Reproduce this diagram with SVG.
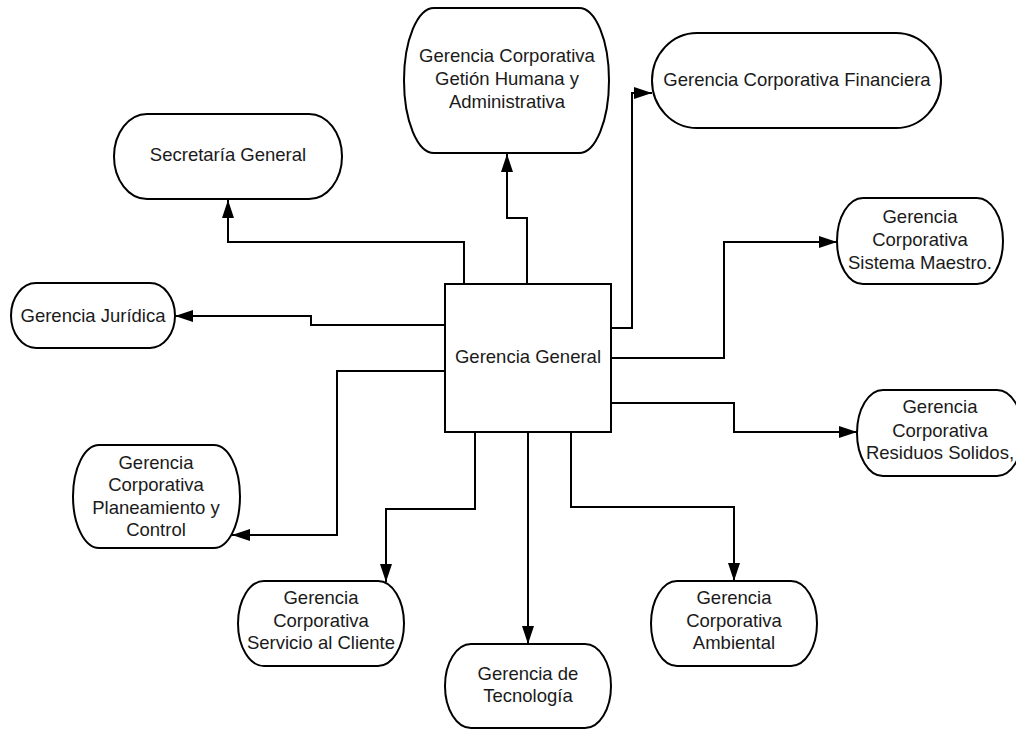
<svg xmlns="http://www.w3.org/2000/svg" width="1016" height="729" viewBox="0 0 1016 729">
<style>
.n{fill:#fff;stroke:#000;stroke-width:2}
.t{font-family:"Liberation Sans",Arial,sans-serif;font-size:18.5px;fill:#1a1a1a;text-anchor:middle}
.c{fill:none;stroke:#000;stroke-width:2;marker-end:url(#ah)}
</style>
<defs>
<marker id="ah" markerUnits="userSpaceOnUse" markerWidth="18" markerHeight="12" refX="18" refY="6" orient="auto">
<path d="M0,0 L18,6 L0,12 z" fill="#000"/>
</marker>
</defs>
<rect width="1016" height="729" fill="#fff"/>
<g id="connectors">
<path class="c" d="M464,284 V242 H228 V200"/>
<path class="c" d="M527,284 V218 H507 V154"/>
<path class="c" d="M611,328 H632 V93 H652"/>
<path class="c" d="M611,358 H724 V242 H837"/>
<path class="c" d="M611,403 H734 V432 H857"/>
<path class="c" d="M571,432 V507 H734 V581"/>
<path class="c" d="M528,432 V644"/>
<path class="c" d="M475,432 V509 H386 V582"/>
<path class="c" d="M445,371 H337 V535 H232"/>
<path class="c" d="M445,325 H311 V316 H175"/>
</g>
<g id="general">
<rect class="n" x="445" y="284" width="166" height="148"/>
<text class="t" x="528" y="363">Gerencia General</text>
</g>
<g id="secretaria">
<rect class="n" x="114" y="114" width="228" height="85" rx="33" ry="42.5"/>
<text class="t" x="228" y="161">Secretaría General</text>
</g>
<g id="gestion">
<rect class="n" x="404" y="8" width="205" height="145" rx="30" ry="72.5"/>
<text class="t" x="507" y="62">Gerencia Corporativa</text>
<text class="t" x="507" y="85">Getión Humana y</text>
<text class="t" x="507" y="108">Administrativa</text>
</g>
<g id="financiera">
<rect class="n" x="652" y="33" width="289" height="95" rx="45" ry="47.5"/>
<text class="t" x="797" y="86">Gerencia Corporativa Financiera</text>
</g>
<g id="sistema">
<rect class="n" x="837" y="198" width="166" height="86" rx="26" ry="43"/>
<text class="t" x="920" y="223">Gerencia</text>
<text class="t" x="920" y="246">Corporativa</text>
<text class="t" x="920" y="269">Sistema Maestro.</text>
</g>
<g id="juridica">
<rect class="n" x="11" y="283" width="164" height="65" rx="25" ry="32.5"/>
<text class="t" x="93" y="322">Gerencia Jurídica</text>
</g>
<g id="residuos">
<rect class="n" x="857" y="390" width="166" height="86" rx="26" ry="43"/>
<text class="t" x="940" y="413">Gerencia</text>
<text class="t" x="940" y="437">Corporativa</text>
<text class="t" x="940" y="459">Residuos Solidos,</text>
</g>
<g id="planeamiento">
<rect class="n" x="73" y="445" width="167" height="103" rx="26" ry="51.5"/>
<text class="t" x="156" y="469">Gerencia</text>
<text class="t" x="156" y="491">Corporativa</text>
<text class="t" x="156" y="514">Planeamiento y</text>
<text class="t" x="156" y="536">Control</text>
</g>
<g id="servicio">
<rect class="n" x="238" y="581" width="166" height="85" rx="26" ry="42.5"/>
<text class="t" x="321" y="604">Gerencia</text>
<text class="t" x="321" y="627">Corporativa</text>
<text class="t" x="321" y="649">Servicio al Cliente</text>
</g>
<g id="tecnologia">
<rect class="n" x="445" y="644" width="166" height="84" rx="26" ry="42"/>
<text class="t" x="528" y="680">Gerencia de</text>
<text class="t" x="528" y="702">Tecnología</text>
</g>
<g id="ambiental">
<rect class="n" x="651" y="581" width="166" height="85" rx="26" ry="42.5"/>
<text class="t" x="734" y="604">Gerencia</text>
<text class="t" x="734" y="627">Corporativa</text>
<text class="t" x="734" y="649">Ambiental</text>
</g>
</svg>
